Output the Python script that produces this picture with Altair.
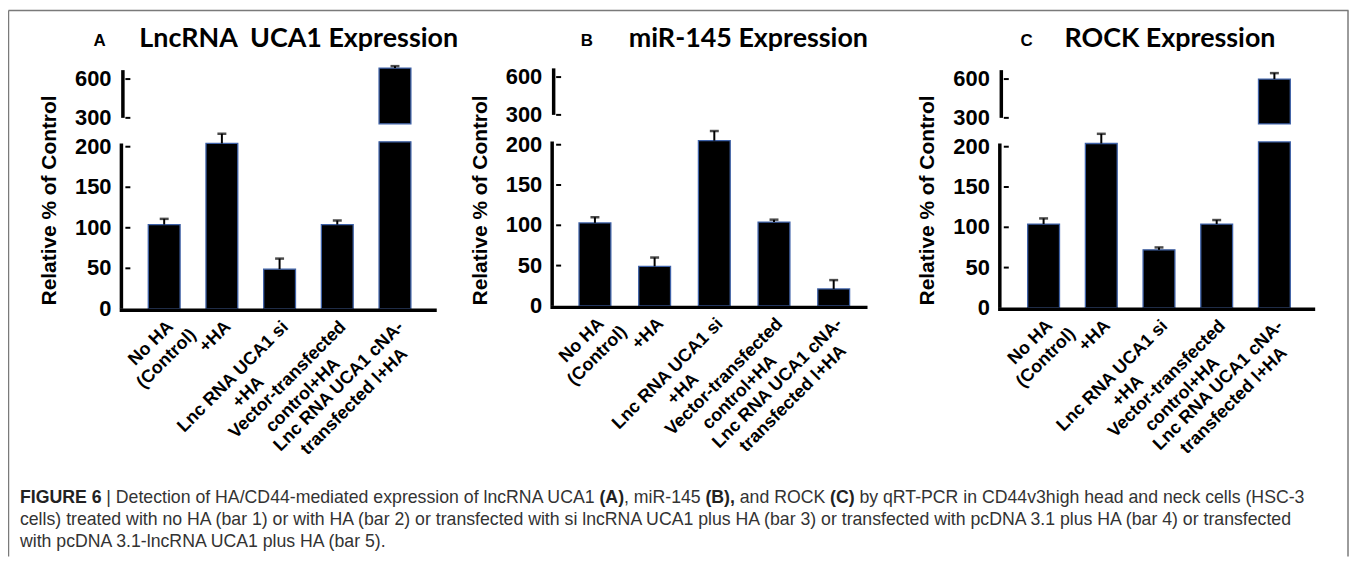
import altair as alt
import pandas as pd

# ---------------- data ----------------
CATS = ["No HA (Control)", "+HA", "Lnc RNA UCA1 si +HA",
        "Vector-transfected control+HA", "Lnc RNA UCA1 cNA-transfected l+HA"]
LABEL_LINES = [["No HA", "(Control)"], ["+HA"], ["Lnc RNA UCA1 si", "+HA"],
               ["Vector-transfected", "control+HA"],
               ["Lnc RNA UCA1 cNA-", "transfected l+HA"]]

VALS_A = [104, 204, 49, 104, 685]
SEM_A = [7, 12, 13, 5, 15]
VALS_B = [103, 49, 205, 104, 21]
SEM_B = [7, 11, 12, 3, 11]
VALS_C = [104, 204, 72, 104, 600]
SEM_C = [7, 12, 3, 5, 46]

LETTERS = ["A", "B", "C"]
TITLES = ["LncRNA\u00a0\u00a0UCA1 Expression", "miR-145 Expression", "ROCK Expression"]
Y_TICKS = [0, 50, 100, 150, 200, 300, 600]
Y_TITLE = "Relative % of Control"
BREAK_LO, BREAK_HI = 206, 262          # axis break (data units)
LOW_AXIS_TOP, UP_AXIS_TOP = 204, 669

CAPTION_L1 = [("FIGURE 6", True), (" | Detection of HA/CD44-mediated expression of lncRNA UCA1 ", False),
              ("(A)", True), (", miR-145 ", False), ("(B),", True), (" and ROCK ", False),
              ("(C)", True), (" by qRT-PCR in CD44v3high head and neck cells (HSC-3", False)]
CAPTION_L2 = ("cells) treated with no HA (bar 1) or with HA (bar 2) or transfected with si lncRNA UCA1 "
              "plus HA (bar 3) or transfected with pcDNA 3.1 plus HA (bar 4) or transfected")
CAPTION_L3 = "with pcDNA 3.1-lncRNA UCA1 plus HA (bar 5)."

# ---------------- layout (plot coords) ----------------
W, H = 1348, 550
BW = 32
PANELS = [
    dict(axis_x=114, c0=157, c1=389, x_end=431, y0=301, y200=138, y300=109, y600=70, letter_x=92, title_x=132),
    dict(axis_x=547, c0=590, c1=830, x_end=864, y0=298, y200=136, y300=106, y600=68, letter_x=582, title_x=624),
    dict(axis_x=997, c0=1041, c1=1273, x_end=1314, y0=300, y200=138, y300=109, y600=70, letter_x=1024, title_x=1062),
]
ARIAL = "Liberation Sans, Arial, sans-serif"
TITLE_FONT = "Lato, Open Sans, sans-serif"
BAR_STROKE = "#3f62a8"

# Arial metrics (per 1000 em) for estimating text widths
def _table(groups):
    d = {}
    for chars, w in groups:
        for ch in chars:
            d[ch] = w
    return d

W_REG = _table([("'", 191), ("ijl", 222), ("|", 260), (" !,./:;[]ftI", 278), ("()-r`", 333),
                ('"', 355), ("cksvxyzJ", 500), ("0123456789abdeghnopqu#$?_L", 556), ("+<=>", 584),
                ("FTZ", 611), ("ABEKPSVXY&", 667), ("CDHNRUw", 722), ("GOQ", 778), ("Mm", 833),
                ("%", 889), ("W", 944)])
W_BOLD = _table([("'", 238), (" !,./:;[]Iijl", 278), ("|", 280), ("()-ft`", 333), ("r", 389), ("z", 500),
                 ("0123456789acesvxykJ#$_", 556), ("+<=>", 584), ("bdghnopquLFTZ?", 611),
                 ("EPSVXY", 667), ("ABCDHKNRU&", 722), ("GOQw", 778), ("M", 833), ("m%", 889), ("W", 944)])


def text_w(s, bold, size):
    t = W_BOLD if bold else W_REG
    return sum(t.get(c, 556) for c in s) * size / 1000.0


def txt(text, x, y, **kw):
    return alt.Chart(pd.DataFrame({"t": [text]})).mark_text(**kw).encode(
        x=alt.value(x), y=alt.value(y), text="t:N")


def panel(i, vals, sems):
    P = PANELS[i]
    df = pd.DataFrame({"cat": CATS, "value": vals, "sem": sems})
    df["err_top"] = df["value"] + df["sem"]
    df["low_base"] = 0
    df["low_top"] = df["value"].clip(upper=BREAK_LO)
    up = df[df["value"] > BREAK_HI].copy()
    up["up_base"] = BREAK_HI

    s = (P["y0"] - P["y200"]) / 200.0
    u = (P["y300"] - P["y600"]) / 300.0
    yscale = alt.Scale(domain=[0, 220, 300, 750],
                       range=[P["y0"], P["y0"] - 220 * s, P["y300"], P["y600"] - 150 * u],
                       nice=False, zero=False)
    step = (P["c1"] - P["c0"]) / 4.0
    xscale = alt.Scale(domain=CATS, range=[P["c0"] - BW / 2, P["c1"] + BW / 2],
                       paddingInner=1 - BW / step, paddingOuter=0)
    X = alt.X("cat:N", scale=xscale, axis=None)
    ax = P["axis_x"]
    one = pd.DataFrame({"d": [0]})

    bars_lo = alt.Chart(df).mark_bar(color="black", stroke=BAR_STROKE, strokeWidth=1.3).encode(
        x=X, y=alt.Y("low_base:Q", scale=yscale, axis=None), y2="low_top:Q")
    bars_up = alt.Chart(up).mark_bar(color="black", stroke=BAR_STROKE, strokeWidth=1.3).encode(
        x=X, y=alt.Y("up_base:Q", axis=None), y2="value:Q")
    err = alt.Chart(df).mark_rule(color="black", strokeWidth=2).encode(
        x=X, y=alt.Y("value:Q", axis=None), y2="err_top:Q")
    caps = alt.Chart(df).mark_tick(color="black", thickness=2.5, size=9).encode(
        x=X, y=alt.Y("err_top:Q", axis=None))
    xline = alt.Chart(one).mark_rule(color="black", strokeWidth=3.5, yOffset=1.5).encode(
        x=alt.value(ax - 1.75), x2=alt.value(P["x_end"]), y=alt.YDatum(datum=0, axis=None))
    ylow = alt.Chart(one).mark_rule(color="black", strokeWidth=3.5).encode(
        x=alt.value(ax), y=alt.YDatum(datum=0, axis=None), y2=alt.datum(LOW_AXIS_TOP))
    yup = alt.Chart(one).mark_rule(color="black", strokeWidth=3.5).encode(
        x=alt.value(ax + 1.5), y=alt.YDatum(datum=300, axis=None), y2=alt.datum(UP_AXIS_TOP))
    tick_df = pd.DataFrame({"t": Y_TICKS})
    ticks = alt.Chart(tick_df[tick_df["t"] > 0]).mark_rule(color="black", strokeWidth=2).encode(
        x=alt.value(ax + 4), x2=alt.value(ax + 9), y=alt.Y("t:Q", axis=None))
    tick_labels = alt.Chart(tick_df).mark_text(
        align="right", baseline="middle", font=ARIAL, fontSize=22, fontWeight="bold", color="black"
    ).encode(x=alt.value(ax - 10), y=alt.Y("t:Q", axis=None), text=alt.Text("t:Q", format="d"))
    y_title = txt(Y_TITLE, ax - 72, 192, angle=270, align="center", baseline="middle", font=ARIAL,
                  fontSize=21, fontWeight="bold", color="black")

    labels = []
    for j, lines in enumerate(LABEL_LINES):
        w1 = text_w(lines[0], True, 18)
        labels.append(
            alt.Chart(pd.DataFrame({"cat": [CATS[j]], "lab": ["\n".join(lines)]})).mark_text(
                angle=315, align="center", baseline="top", dx=-w1 / 2, lineBreak="\n",
                font=ARIAL, fontSize=18, fontWeight="bold", lineHeight=22, color="black"
            ).encode(x=X, y=alt.value(P["y0"] + 9), text="lab:N"))

    letter = txt(LETTERS[i], P["letter_x"], 37, font=ARIAL, fontSize=17, fontWeight="bold",
                 align="center", baseline="alphabetic", color="black")
    title = txt(TITLES[i], P["title_x"], 38, font=TITLE_FONT, fontSize=27, fontWeight="bold",
                align="left", baseline="alphabetic", color="black")

    return alt.layer(bars_lo, bars_up, err, caps, xline, ylow, yup, ticks, tick_labels, y_title,
                     *labels, letter, title)


pA = panel(0, VALS_A, SEM_A)
pB = panel(1, VALS_B, SEM_B)
pC = panel(2, VALS_C, SEM_C)

# ---------------- caption ----------------
CAP_X = 12
CAP_FS = 1285.0 / (text_w(CAPTION_L2, False, 1000) / 1000.0)
CAP_COLOR = "#333333"
caption = []
cx = CAP_X
for seg, bold in CAPTION_L1:
    lead = len(seg) - len(seg.lstrip(" "))
    caption.append(txt(seg.strip(" "), cx + text_w(" " * lead, bold, CAP_FS), 496, font=ARIAL,
                       fontSize=CAP_FS, fontWeight="bold" if bold else "normal", align="left",
                       baseline="alphabetic", color="#222222" if bold else CAP_COLOR))
    cx += text_w(seg, bold, CAP_FS) * 0.997
caption.append(txt(CAPTION_L2, CAP_X, 518, font=ARIAL, fontSize=CAP_FS, align="left",
                   baseline="alphabetic", color=CAP_COLOR))
caption.append(txt(CAPTION_L3, CAP_X, 540, font=ARIAL, fontSize=CAP_FS, align="left",
                   baseline="alphabetic", color=CAP_COLOR))

# ---------------- frame ----------------
one = pd.DataFrame({"d": [0]})
BORDER = "#7a7a7a"
border = [
    alt.Chart(one).mark_rule(color=BORDER, strokeWidth=1.5).encode(
        x=alt.value(0.5), x2=alt.value(W - 0.5), y=alt.value(1)),
    alt.Chart(one).mark_rule(color=BORDER, strokeWidth=1.5).encode(
        x=alt.value(0.5), y=alt.value(1), y2=alt.value(H)),
    alt.Chart(one).mark_rule(color=BORDER, strokeWidth=1.5).encode(
        x=alt.value(W - 1), y=alt.value(1), y2=alt.value(H)),
]

chart = alt.layer(pA, pB, pC, *caption, *border).resolve_scale(
    x="independent", y="independent"
).properties(
    width=W, height=H, padding=0, autosize=alt.AutoSizeParams(type="none")
).configure_view(stroke=None).configure_axis(grid=False)

chart.save("out.html", embed_options={"renderer": "svg", "actions": False})
